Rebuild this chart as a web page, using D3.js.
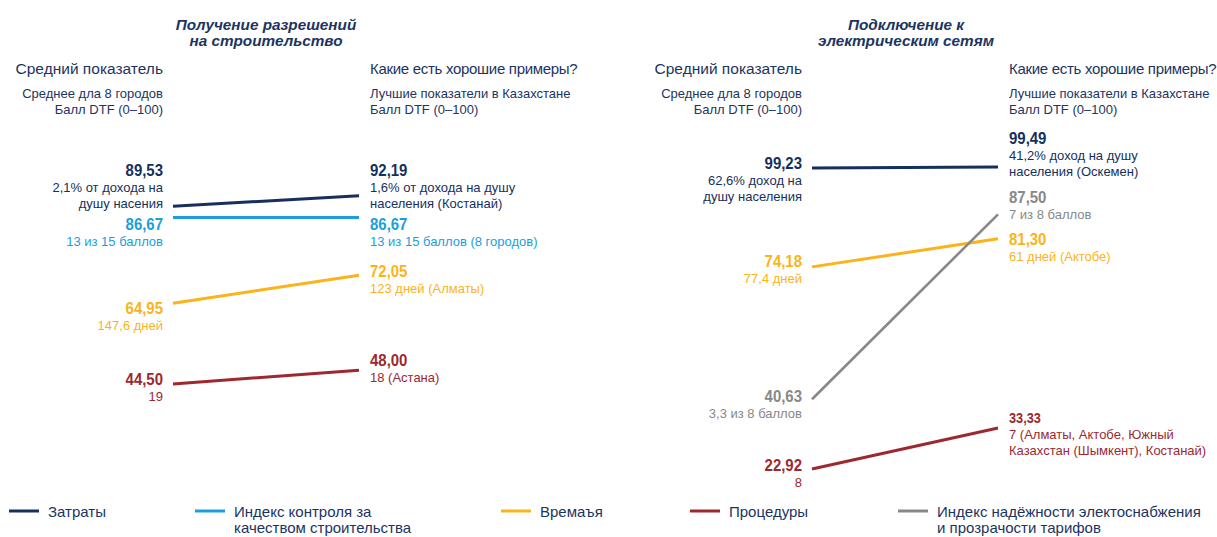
<!DOCTYPE html>
<html>
<head>
<meta charset="utf-8">
<script src="https://cdn.jsdelivr.net/npm/d3@7"></script>
<style>
  html, body { margin: 0; padding: 0; background: #ffffff; }
  svg { display: block; font-family: "Liberation Sans", Arial, sans-serif; }
</style>
</head>
<body>
<svg id="chart" width="1217" height="537"></svg>
<script>
// ---------- DATA ----------
const seriesKeys = ["cost", "quality", "time", "procedures", "reliability"];
const seriesNames = [
  ["Затраты"],
  ["Индекс контроля за", "качеством строительства"],
  ["Времаъя"],
  ["Процедуры"],
  ["Индекс надёжности электоснабжения", "и прозрачости тарифов"]
];

const columnHeaders = ["Средний показатель", "Какие есть хорошие примеры?"];
const columnSubheaders = [
  ["Среднее дла 8 городов", "Балл DTF (0–100)"],
  ["Лучшие показатели в Казахстане", "Балл DTF (0–100)"]
];

// Panel 1: Получение разрешений на строительство
const permitTitle = ["Получение разрешений", "на строительство"];
const permitSeries = ["cost", "quality", "time", "procedures"];
const permitAverage = [89.53, 86.67, 64.95, 44.50];
const permitBest = [92.19, 86.67, 72.05, 48.00];
const permitAverageNotes = [["2,1% от дохода на", "душу насения"], ["13 из 15 баллов"], ["147,6 дней"], ["19"]];
const permitBestNotes = [["1,6% от дохода на душу", "населения (Костанай)"], ["13 из 15 баллов (8 городов)"], ["123 дней (Алматы)"], ["18 (Астана)"]];

// Panel 2: Подключение к электрическим сетям
const powerTitle = ["Подключение к", "электрическим сетям"];
const powerSeries = ["cost", "time", "reliability", "procedures"];
const powerAverage = [99.23, 74.18, 40.63, 22.92];
const powerBest = [99.49, 81.30, 87.50, 33.33];
const powerAverageNotes = [["62,6% доход на", "душу населения"], ["77,4 дней"], ["3,3 из 8 баллов"], ["8"]];
const powerBestNotes = [["41,2% доход на душу", "населения (Оскемен)"], ["61 дней (Актобе)"], ["7 из 8 баллов"], ["7 (Алматы, Актобе, Южный", "Казахстан (Шымкент), Костанай)"]];

// ---------- STYLE / LAYOUT ----------
const colors = {
  cost: "#15305d",
  quality: "#1a9fdb",
  time: "#fbb31a",
  procedures: "#9d2830",
  reliability: "#888888"
};
const textNavy = "#1c3461";

// label baseline offsets (px) from the line end, per series, [average side, best side]
const permitLabelDy = [[-30.5, -20], [12.5, 12.5], [11.2, 1.6], [1.3, -4]];
const powerLabelDy = [[1, -22.7], [0, 6.3], [2.8, -11], [2, -5]];
const powerValueSize = [[17, 17], [17, 17], [17, 17], [17, 14.5]];
const permitValueSize = [[17, 17], [17, 17], [17, 17], [17, 17]];

const svg = d3.select("#chart");

const y = d3.scaleLinear().domain([0, 100]).range([559.5, 165]);
const fmt = d3.formatLocale({ decimal: ",", thousands: " ", grouping: [3], currency: ["", ""] }).format(".2f");

function drawPanel(cfg) {
  const g = svg.append("g");
  const x = d3.scalePoint().domain(["avg", "best"]).range(cfg.xRange);
  const xL = x("avg"), xR = x("best");

  // title
  g.append("text")
    .attr("x", cfg.titleX).attr("y", 30)
    .attr("text-anchor", "middle")
    .attr("fill", textNavy)
    .style("font-size", "15.3px").style("font-weight", "bold").style("font-style", "italic")
    .selectAll("tspan").data(cfg.title).join("tspan")
    .attr("x", cfg.titleX).attr("dy", (d, i) => i === 0 ? 0 : 15.8)
    .text(d => d);

  // column headers
  const headerX = [xL - 10, xR + 11];
  const anchors = ["end", "start"];
  [0, 1].forEach(c => {
    g.append("text")
      .attr("x", headerX[c]).attr("y", 74)
      .attr("text-anchor", anchors[c])
      .attr("fill", textNavy)
      .style("font-size", c === 0 ? "15.5px" : "15px")
      .style("letter-spacing", c === 1 ? "-0.3px" : "0px")
      .text(columnHeaders[c]);
    g.append("text")
      .attr("text-anchor", anchors[c])
      .attr("fill", textNavy)
      .style("font-size", "13px")
      .selectAll("tspan").data(columnSubheaders[c]).join("tspan")
      .attr("x", headerX[c]).attr("y", (d, i) => 97.5 + i * 16.5)
      .text(d => d);
  });

  const rows = cfg.series.map((s, i) => ({
    key: s, avg: cfg.avg[i], best: cfg.best[i],
    notes: [cfg.avgNotes[i], cfg.bestNotes[i]],
    dy: cfg.dy[i], size: cfg.sizes[i]
  }));

  // lines (reliability drawn last)
  const ordered = rows.slice().sort((a, b) => (a.key === "reliability") - (b.key === "reliability"));
  g.selectAll("line.slope").data(ordered).join("line")
    .attr("class", "slope")
    .attr("x1", xL).attr("x2", xR)
    .attr("y1", d => y(d.avg)).attr("y2", d => y(d.best))
    .attr("stroke", d => colors[d.key])
    .attr("stroke-width", d => d.key === "reliability" ? 2.6 : 3);

  // labels
  rows.forEach(r => {
    [0, 1].forEach(side => {
      const v = side === 0 ? r.avg : r.best;
      const by = y(v) + r.dy[side];
      // bold value, horizontally condensed
      g.append("text")
        .attr("transform", `translate(${headerX[side]},${by}) scale(0.88,1)`)
        .attr("text-anchor", anchors[side])
        .attr("fill", colors[r.key])
        .style("font-weight", "bold")
        .style("font-size", r.size[side] + "px")
        .text(fmt(v));
      const t = g.append("text")
        .attr("text-anchor", anchors[side])
        .attr("fill", colors[r.key])
        .style("font-size", "13px");
      r.notes[side].forEach((line, li) => {
        t.append("tspan")
          .attr("x", headerX[side]).attr("y", by + 16 + li * 15.8)
          .text(line);
      });
    });
  });
}

drawPanel({
  title: permitTitle, titleX: 266, xRange: [173, 359],
  series: permitSeries, avg: permitAverage, best: permitBest,
  avgNotes: permitAverageNotes, bestNotes: permitBestNotes,
  dy: permitLabelDy, sizes: permitValueSize
});
drawPanel({
  title: powerTitle, titleX: 906, xRange: [812, 998],
  series: powerSeries, avg: powerAverage, best: powerBest,
  avgNotes: powerAverageNotes, bestNotes: powerBestNotes,
  dy: powerLabelDy, sizes: powerValueSize
});

// ---------- LEGEND ----------
const legendX = [9, 195, 501, 690, 898];
const legend = svg.append("g");
seriesKeys.forEach((k, i) => {
  const lg = legend.append("g").attr("transform", `translate(${legendX[i]},511)`);
  lg.append("line").attr("x1", 0).attr("x2", 30).attr("y1", 0).attr("y2", 0)
    .attr("stroke", colors[k]).attr("stroke-width", 3);
  lg.append("text").attr("fill", textNavy).style("font-size", "15px")
    .selectAll("tspan").data(seriesNames[i]).join("tspan")
    .attr("x", 39).attr("y", (d, j) => 5.5 + j * 16.5)
    .text(d => d);
});
</script>
</body>
</html>
